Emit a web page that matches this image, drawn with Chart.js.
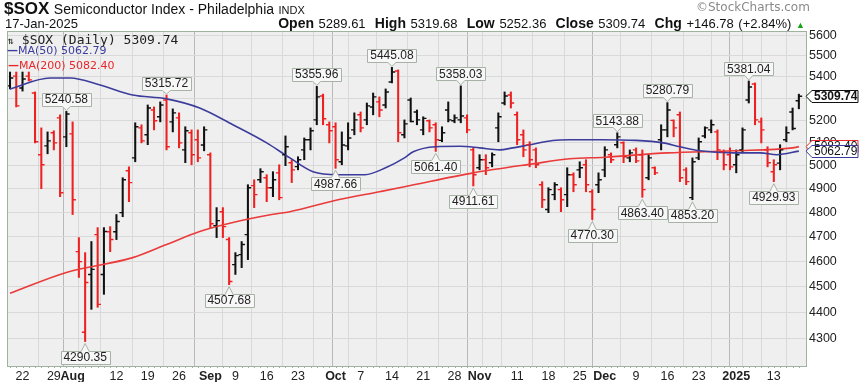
<!DOCTYPE html>
<html><head><meta charset="utf-8">
<script src="https://cdn.jsdelivr.net/npm/chart.js@4.4.1/dist/chart.umd.min.js"></script>
<style>
html,body{margin:0;padding:0;background:#fff;}
#wrap{position:relative;width:865px;height:382px;overflow:hidden;font-family:"Liberation Sans",Arial,sans-serif;color:#111;}
canvas{position:absolute;left:0;top:0;}
.t{position:absolute;white-space:nowrap;line-height:1;}
</style></head><body>
<div id="wrap">
<canvas id="c" width="865" height="382"></canvas>
<div class="t" style="left:4px;top:0px;"><span style="font-weight:bold;font-size:17px">$SOX</span> <span style="font-size:14px">Semiconductor Index - Philadelphia</span> <span style="font-size:11px">INDX</span></div>
<div class="t" style="left:5px;top:17px;font-size:13px;">17-Jan-2025</div>
<div class="t" style="right:60px;top:16px;font-size:13px;word-spacing:1px;"><b style="font-size:14px">Open</b> 5289.61 &nbsp;<b style="font-size:14px">High</b> 5319.68 &nbsp;<b style="font-size:14px">Low</b> 5252.36 &nbsp;<b style="font-size:14px">Close</b> 5309.74 &nbsp;<b style="font-size:14px">Chg</b> +146.78 (+2.84%) <span style="color:#13a513;font-size:9px">&#9650;</span></div>
<div class="t" style="left:696px;top:1px;font-size:12px;font-family:'DejaVu Sans';color:#8a8a8a;">&copy;StockCharts.com</div>
<div class="t" style="left:8px;top:33px;font-size:13px;font-family:'DejaVu Sans Mono';color:#222;"><span style="font-size:10px">&#8645;</span> $SOX (Daily) 5309.74</div>
<div class="t" style="left:7px;top:45px;font-size:11px;font-family:'DejaVu Sans';color:#3c3c9c;"><b>&#8212;</b>MA(50) 5062.79</div>
<div class="t" style="left:8px;top:60px;font-size:11px;font-family:'DejaVu Sans';color:#e8262a;"><b>&#8212;</b>MA(200) 5082.40</div>
</div>
<script>
// ---- categories (trading days) ----
const dates = ['7/18','7/19','7/22','7/23','7/24','7/25','7/26','7/29','7/30','7/31',
'8/1','8/2','8/5','8/6','8/7','8/8','8/9','8/12','8/13','8/14','8/15','8/16','8/19','8/20','8/21','8/22','8/23','8/26','8/27','8/28','8/29','8/30',
'9/3','9/4','9/5','9/6','9/9','9/10','9/11','9/12','9/13','9/16','9/17','9/18','9/19','9/20','9/23','9/24','9/25','9/26','9/27','9/30',
'10/1','10/2','10/3','10/4','10/7','10/8','10/9','10/10','10/11','10/14','10/15','10/16','10/17','10/18','10/21','10/22','10/23','10/24','10/25','10/28','10/29','10/30','10/31',
'11/1','11/4','11/5','11/6','11/7','11/8','11/11','11/12','11/13','11/14','11/15','11/18','11/19','11/20','11/21','11/22','11/25','11/26','11/27','11/29',
'12/2','12/3','12/4','12/5','12/6','12/9','12/10','12/11','12/12','12/13','12/16','12/17','12/18','12/19','12/20','12/23','12/24','12/26','12/27','12/30','12/31',
'1/2','1/3','1/6','1/7','1/8','1/10','1/13','1/14','1/15','1/16','1/17'];

// ---- OHLC series ----
const openP = [5358,5404,5348,5404,5325,5047,5086,5144,5211,5126,
5139,4639,4325,4548,4708,4548,4720,4720,4799,4977,5033,5166,5135,5247,5216,5293,5193,5211,5068,5144,5113,5090,
5047,4745,4803,4688,4587,4627,4708,4913,4938,4947,4904,4968,5047,5012,4995,5068,5113,5202,5311,5180,
5171,5016,5086,5157,5225,5202,5261,5284,5270,5376,5428,5135,5293,5238,5157,5198,5180,5110,5247,5198,5202,5211,5068,
4990,5025,5012,5166,5279,5316,5225,5135,5091,5068,4917,4812,4875,4896,4875,4960,4981,5003,4887,4917,
4981,5047,5091,5100,5033,5068,5047,4947,4990,5113,5157,5200,5225,4981,4862,5033,5130,5157,5148,5060,5047,
5003,5068,5293,5367,5193,5068,4973,5010,5113,5238,5289.61];
const highP = [5423,5423,5423,5423,5330,5166,5148,5153,5225,5240.58,
5193,4696,4635,4680,4737,4737,4741,4791,4947,4994,5189,5180,5270,5261,5284,5315.72,5252,5234,5171,5157,5157,5171,
5055,4820,4820,4696,4635,4680,4917,4938,4986,4960,4973,5003,5130,5025,5038,5121,5166,5355.96,5320,5193,
5189,5148,5189,5234,5238,5279,5325,5307,5344,5445.08,5433,5202,5302,5247,5216,5202,5189,5171,5284,5225,5358.03,5225,5077,
5047,5047,5055,5234,5330,5330,5238,5157,5104,5077,4930,4904,4926,4904,4990,4968,5016,5025,4896,4968,
5082,5055,5143.88,5104,5068,5077,5068,5047,4994,5180,5280.79,5202,5238,4990,5033,5121,5171,5202,5157,5068,5077,
5068,5166,5381.04,5372,5211,5082,5025,5091,5171,5256,5319.68];
const lowP = [5344,5261,5334,5381,5099,4900,5051,5068,4866,5082,
4791,4536,4290.35,4412,4420,4470,4639,4688,4782,4845,5016,5099,5091,5157,5193,5068,5148,5077,5012,5003,5016,5064,
4737,4696,4696,4507.68,4548,4575,4607,4820,4926,4845,4866,4853,4999,4926,4981,5025,5068,5180,5180,5099,
4987.66,5003,5068,5135,5148,5180,5225,5216,5256,5372,5104,5121,5193,5180,5135,5148,5061.40,5104,5193,5189,5189,5144,4911.61,
4981,4960,4994,5104,5270,5256,5091,5038,4994,4990,4820,4799,4853,4803,4824,4887,4947,4887,4770.30,4883,
4951,5012,5077,5012,5016,5012,4863.40,4938,4960,5068,5126,5126,4930,4917,4853.20,5025,5121,5144,5025,4981,4981,
4968,5055,5279,5180,5099,4994,4929.93,4981,5104,5157,5252.36];
const closeP = [5395,5266,5390,5386,5104,5003,5108,5099,4883,5229,
4853,4599,4516,4568,4431,4721,4688,4762,4938,4926,5171,5108,5256,5198,5270,5082,5234,5099,5153,5047,5033,5157,
4753,4766,4741,4520,4623,4668,4904,4875,4973,4904,4938,4862,5082,4981,5025,5113,5153,5307,5207,5153,
5025,5090,5121,5202,5166,5266,5307,5247,5330,5423,5144,5184,5195,5202,5209,5166,5113,5144,5202,5211,5220,5157,4960,
5025,4990,5047,5216,5311,5279,5113,5068,5025,5003,4853,4896,4917,4853,4960,4917,4990,4917,4812,4938,
5068,5025,5126,5038,5055,5020,4896,5033,4968,5157,5247,5166,4947,4930,5016,5104,5166,5180,5068,5003,4994,
5047,5157,5353,5202,5157,5012,5003,5068,5144,5162.96,5309.74];
const prevCloseBeforeFirst = 5360;

// ---- moving averages (read at sample days) ----
const ma50Day = [0,6.4,9.6,14.4,19.6,25,30.3,35.6,41,44.7,48.4,52.4,56.7,60,63,64.4,68,71.9,75,78.2,80.3,83,86.7,89.4,94.2,100,104.3,107,110.2,115.5,119.8,122.5,126];
const ma50Val = [5344,5395,5395,5362,5316,5298,5256,5180,5099,5033,4973,4960,4960,4990,5033,5060,5082,5084,5077,5068,5077,5091,5110,5113,5113,5110,5099,5082,5064,5055,5055,5047,5062.79];
const ma200Day = [0,9,19.6,25,30.3,35.6,41.8,44.7,52.4,59,63,74,83.5,89.4,95,105,115.5,125,126];
const ma200Val = [4474,4556,4615,4668,4721,4758,4791,4803,4853,4887,4908,4968,5007,5029,5036,5055,5064,5077,5082.40];

// ---- axis ticks ----
const yTicks = [4300,4400,4500,4600,4700,4800,4900,5000,5100,5200,5300,5400,5500,5600];
const xTickDates = ['7/22','7/29','8/1','8/5','8/12','8/19','8/26','9/3','9/9','9/16','9/23','9/30','10/1','10/7','10/14','10/21','10/28','11/1','11/4','11/11','11/18','11/25','12/2','12/9','12/16','12/23','12/30','1/2','1/6','1/13'];
const xTickLabels = ['22','29','Aug','','12','19','26','Sep','9','16','23','','Oct','7','14','21','28','Nov','','11','18','25','Dec','9','16','23','','2025','','13'];
const monthStartDates = ['8/1','9/3','10/1','11/1','12/2','1/2'];

// ---- annotated extremes ----
const noteDates = ['7/31','8/5','8/22','9/6','9/26','10/1','10/14','10/23','10/29','10/31','11/27','12/4','12/10','12/16','12/20','1/6','1/13'];
const noteKinds = ['high','low','high','low','high','low','high','low','high','low','low','high','low','high','low','high','low'];

// ---- derived ----
const UP = '#111111', DOWN = '#ee2020';
const barColors = closeP.map((c,i)=> c >= (i ? closeP[i-1] : prevCloseBeforeFirst) ? UP : DOWN);
const tickIdx = xTickDates.map(d => dates.indexOf(d));
const labelByIdx = new Map(tickIdx.map((v,k)=>[v, xTickLabels[k]]));
const monthIdx = new Set(monthStartDates.map(d => dates.indexOf(d)));
const FONT = "'Liberation Sans', Arial, sans-serif";

const decor = {
  id:'decor',
  beforeDraw(chart){
    const {ctx, chartArea:a} = chart;
    ctx.save(); ctx.fillStyle = '#efefef'; ctx.fillRect(a.left,a.top,a.width,a.height); ctx.restore();
  },
  afterDatasetsDraw(chart){
    const {ctx, chartArea:a, scales:{x,y}} = chart;
    ctx.save(); ctx.beginPath(); ctx.rect(a.left,a.top,a.width,a.height); ctx.clip();
    ctx.lineWidth = 1.4;
    for(let i=0;i<dates.length;i++){
      const px = x.getPixelForValue(i);
      ctx.strokeStyle = barColors[i];
      const yo = y.getPixelForValue(openP[i]), yc = y.getPixelForValue(closeP[i]);
      ctx.beginPath(); ctx.moveTo(px-3.3,yo); ctx.lineTo(px,yo); ctx.moveTo(px,yc); ctx.lineTo(px+3.3,yc); ctx.stroke();
    }
    ctx.restore();
  },
  afterDraw(chart){
    const {ctx, chartArea:a, scales:{x,y}} = chart;
    ctx.save();
    // plot border
    ctx.strokeStyle = '#9fb19f'; ctx.lineWidth = 1;
    ctx.strokeRect(Math.round(a.left)+0.5, Math.round(a.top)+0.5, Math.round(a.width)-1, Math.round(a.height));
    // daily tick marks under the x axis
    ctx.beginPath();
    for(let i=0;i<dates.length;i++){ const px = Math.round(x.getPixelForValue(i))+0.5; ctx.moveTo(px,a.bottom); ctx.lineTo(px,a.bottom+2); }
    ctx.stroke();
    // annotation boxes
    ctx.font = '12px ' + FONT; ctx.textAlign = 'center'; ctx.textBaseline = 'middle';
    noteDates.forEach((d,k)=>{
      const i = dates.indexOf(d), hi = noteKinds[k]==='high';
      const v = hi ? highP[i] : lowP[i];
      const txt = v.toFixed(2);
      const px = x.getPixelForValue(i), py = y.getPixelForValue(v);
      const w = Math.round(ctx.measureText(txt).width) + 6, h = 13;
      const cy = hi ? py - 12 : py + 15.5;
      const l = Math.round(px - w/2)+0.5, t = Math.round(cy - h/2)+0.5, r = l + w, b = t + h;
      ctx.beginPath();
      if(hi){
        ctx.moveTo(l,t); ctx.lineTo(r,t); ctx.lineTo(r,b); ctx.lineTo(px+4,b); ctx.lineTo(px,py-1); ctx.lineTo(px-4,b); ctx.lineTo(l,b); ctx.closePath();
      } else {
        ctx.moveTo(l,t); ctx.lineTo(px-4,t); ctx.lineTo(px,py+2); ctx.lineTo(px+4,t); ctx.lineTo(r,t); ctx.lineTo(r,b); ctx.lineTo(l,b); ctx.closePath();
      }
      ctx.fillStyle = '#f7f7f7'; ctx.fill(); ctx.strokeStyle = '#a7b2a7'; ctx.stroke();
      ctx.fillStyle = '#222'; ctx.fillText(txt, px, cy+0.5);
    });
    // right-axis value flags
    const flag = (val, border, bold) => {
      const py = y.getPixelForValue(val);
      const l = a.right + 5, r = 858, t = Math.round(py - 6.5)+0.5, b = t + 12;
      ctx.beginPath(); ctx.moveTo(a.right-1, py); ctx.lineTo(l,t); ctx.lineTo(r,t); ctx.lineTo(r,b); ctx.lineTo(l,b); ctx.closePath();
      ctx.fillStyle = '#fff'; ctx.fill(); ctx.strokeStyle = border; ctx.lineWidth = 1; ctx.stroke();
      ctx.fillStyle = '#111'; ctx.font = (bold?'bold ':'') + '12px ' + FONT; ctx.textAlign = 'left'; ctx.textBaseline = 'middle';
      ctx.fillText(val.toFixed(2), l + 2, py + 0.5);
    };
    flag(ma200Val[ma200Val.length-1], '#e8262a', false);
    flag(ma50Val[ma50Val.length-1], '#3c3c9c', false);
    flag(closeP[closeP.length-1], '#111', true);
    ctx.restore();
  }
};

new Chart(document.getElementById('c'), {
  data: {
    datasets: [
      { type:'line', label:'MA(50)', data: ma50Day.map((d,k)=>({x:d, y:ma50Val[k]})), borderColor:'#3c3c9c', borderWidth:1.6, pointRadius:0, cubicInterpolationMode:'monotone', order:1 },
      { type:'line', label:'MA(200)', data: ma200Day.map((d,k)=>({x:d, y:ma200Val[k]})), borderColor:'#ea3a3a', borderWidth:1.6, pointRadius:0, cubicInterpolationMode:'monotone', order:1 },
      { type:'bar', label:'$SOX', data: dates.map((d,i)=>({x:i, y:[lowP[i], highP[i]]})), backgroundColor: barColors, borderWidth:0, barThickness:1.4, grouped:false, order:2 }
    ]
  },
  options: {
    responsive:false, animation:false, events:[],
    layout:{padding:{left:7, top:31, right:0, bottom:0}},
    plugins:{legend:{display:false}, tooltip:{enabled:false}},
    scales:{
      x:{ type:'linear', min:-0.48, max:127.3, offset:false,
          afterBuildTicks: s => { s.ticks = tickIdx.map(v=>({value:v})); },
          afterFit: s => { s.height = 16; },
          grid:{ color: c => (c.tick && monthIdx.has(c.tick.value)) ? '#b9b9b9' : '#d9d9d9', drawTicks:false, lineWidth:1 },
          border:{display:false},
          ticks:{ autoSkip:false, maxRotation:0, minRotation:0, padding:3, color:'#222',
                  font: c => ({family:FONT, size:12.5, weight: (c.tick && monthIdx.has(c.tick.value)) ? 'bold' : 'normal'}),
                  callback: v => labelByIdx.has(v) ? labelByIdx.get(v) : '' } },
      y:{ type:'logarithmic', position:'right', min:4200, max:5620,
          afterBuildTicks: s => { s.ticks = yTicks.map(v=>({value:v})); },
          afterFit: s => { s.width = 58; },
          grid:{ color:'#d9d9d9', drawTicks:false },
          border:{display:false},
          ticks:{ padding:2, color:'#222', font:{family:FONT, size:12.5}, callback: v => String(v) } }
    }
  },
  plugins:[decor]
});
</script>
</body></html>
